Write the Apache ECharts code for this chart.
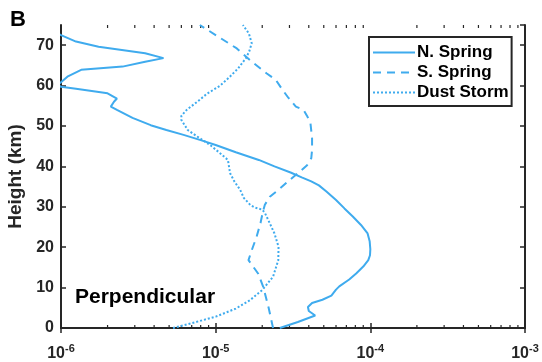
<!DOCTYPE html>
<html>
<head>
<meta charset="utf-8">
<script src="https://cdn.jsdelivr.net/npm/echarts@6/dist/echarts.min.js"></script>
<style>
	html, body { margin: 0; padding: 0; background: #fff; }
	#chart { width: 542px; height: 362px; }
</style>
</head>
<body>
<div id="chart"></div>
<script>
	// heights (km) and values
	var nSpringKm = [0, 1.5, 3.1, 4.2, 5.2, 6.2, 7.0, 8.0, 9.5, 10.3, 12, 13.5, 15.2, 16.8, 18, 19.5, 21.5, 23.4, 25.5, 27.6, 29.6, 31.7, 33.8, 35.3, 36.3, 37.3, 38.5, 40, 41.6, 43.5, 45.3, 46.5, 47.8, 49, 50.2, 52, 54, 54.8, 56, 56.8, 58.1, 59.2, 59.7, 60.2, 60.8, 62.2, 63.9, 64.7, 65.9, 66.8, 68.0, 69.6, 70.9, 72.5, 73.5];
	var nSpringVal = [2.6e-5, 3.4e-5, 4.4e-5, 4.0e-5, 3.95e-5, 4.2e-5, 4.9e-5, 5.6e-5, 6.0e-5, 6.3e-5, 7.3e-5, 8.1e-5, 9.0e-5, 9.7e-5, 9.95e-5, 1.0e-4, 9.9e-5, 9.6e-5, 8.7e-5, 7.7e-5, 6.8e-5, 6.0e-5, 5.2e-5, 4.65e-5, 4.15e-5, 3.6e-5, 3.05e-5, 2.4e-5, 1.9e-5, 1.35e-5, 1.0e-5, 8.0e-6, 6.2e-6, 4.8e-6, 3.8e-6, 2.9e-6, 2.3e-6, 2.1e-6, 2.2e-6, 2.3e-6, 2.0e-6, 1.25e-6, 1.0e-6, 9.5e-7, 1.0e-6, 1.1e-6, 1.35e-6, 2.5e-6, 3.5e-6, 4.6e-6, 3.5e-6, 1.75e-6, 1.25e-6, 1.0e-6, 9e-7];

	var sSpringKm = [0, 5, 10.2, 13.5, 16.8, 19.5, 22.6, 26, 28.8, 30.5, 32.5, 34.5, 36.6, 38.5, 40.3, 42, 44.1, 47, 50.7, 52.5, 54, 54.8, 57, 59, 61.4, 63, 66, 69.2, 72, 75];
	var sSpringVal = [2.35e-5, 2.2e-5, 2.03e-5, 1.88e-5, 1.63e-5, 1.72e-5, 1.84e-5, 1.95e-5, 2.02e-5, 2.08e-5, 2.24e-5, 2.6e-5, 3.0e-5, 3.45e-5, 3.9e-5, 4.15e-5, 4.2e-5, 4.2e-5, 4.1e-5, 3.9e-5, 3.7e-5, 3.3e-5, 2.95e-5, 2.7e-5, 2.45e-5, 2.14e-5, 1.7e-5, 1.37e-5, 1.05e-5, 7.9e-6];

	var dustKm = [0, 1.2, 2.8, 4.8, 6.9, 9.4, 12.7, 16.8, 20.1, 23.4, 26.7, 28.5, 29.3, 29.8, 30.4, 32.2, 34.2, 36.3, 38.3, 41.6, 43.5, 45.3, 47.4, 49, 51.5, 52.5, 54, 56, 58, 60, 62, 64.3, 66.8, 68.5, 70.5, 72.9, 75];
	var dustVal = [5.3e-6, 7.0e-6, 1.0e-5, 1.35e-5, 1.67e-5, 2.0e-5, 2.35e-5, 2.54e-5, 2.55e-5, 2.4e-5, 2.19e-5, 2.08e-5, 2.0e-5, 1.8e-5, 1.68e-5, 1.52e-5, 1.44e-5, 1.32e-5, 1.24e-5, 1.2e-5, 1.05e-5, 9.2e-6, 7.6e-6, 6.6e-6, 6.0e-6, 6.0e-6, 6.5e-6, 7.6e-6, 8.8e-6, 1.07e-5, 1.22e-5, 1.4e-5, 1.57e-5, 1.65e-5, 1.71e-5, 1.64e-5, 1.5e-5];

	var seriesNames = ['N. Spring', 'S. Spring', 'Dust Storm'];

	// minor tick positions of the log axis (2..9 x 10^n)
	var minorTicks = [];
	for (var e = -6; e < -3; e++) {
		for (var k = 2; k <= 9; k++) {
			minorTicks.push([k * Math.pow(10, e), 0]);
		}
	}

	function pairs(xs, ys) {
		var out = [];
		for (var i = 0; i < xs.length; i++) {
			out.push([ys[i], xs[i]]);
		}
		return out;
	}

	var blue = '#3FABEE';
	var axisColor = '#262626';
	var font = 'Liberation Sans, Arial, sans-serif';

	var chart = echarts.init(document.getElementById('chart'));
	chart.setOption({
		animation: false,
		title: {
			text: 'B',
			left: 10,
			top: 9,
			padding: 0,
			textStyle: { fontFamily: font, fontSize: 22, fontWeight: 'bold', color: '#000' }
		},
		grid: { left: 61, right: 17, top: 25, bottom: 34, outerBoundsMode: 'none' },
		legend: {
			data: seriesNames,
			orient: 'vertical',
			left: 369,
			top: 37,
			itemWidth: 42,
			itemHeight: 14,
			itemGap: 3,
			padding: [7, 3, 5, 3],
			borderColor: axisColor,
			borderWidth: 2,
			backgroundColor: '#fff',
			itemStyle: { opacity: 0 },
			textStyle: { fontFamily: font, fontSize: 17, fontWeight: 'bold', color: '#000', padding: [0, 0, 0, -3] }
		},
		graphic: [{
			type: 'text',
			left: 75,
			top: 287,
			style: { text: 'Perpendicular', fontFamily: font, fontSize: 21, fontWeight: 'bold', fill: '#000' }
		}],
		xAxis: [{
			type: 'log',
			logBase: 10,
			min: 1e-6,
			max: 1e-3,
			position: 'bottom',
			splitLine: { show: false },
			axisLine: { lineStyle: { color: axisColor, width: 2 } },
			axisTick: { inside: true, length: 5, lineStyle: { color: axisColor, width: 1.5 } },
			axisLabel: {
				margin: 15,
				formatter: function (v) {
					var p = Math.round(Math.log10(v));
					return '{b|10}{s|' + p + '}';
				},
				rich: {
					b: { fontFamily: font, fontSize: 16, fontWeight: 'bold', color: axisColor },
					s: { fontFamily: font, fontSize: 11, fontWeight: 'bold', color: axisColor, verticalAlign: 'top', padding: [0, 0, 10, 0] }
				}
			}
		}, {
			type: 'log',
			logBase: 10,
			min: 1e-6,
			max: 1e-3,
			position: 'top',
			splitLine: { show: false },
			axisLine: { lineStyle: { color: axisColor, width: 2 } },
			axisTick: { inside: true, length: 5, lineStyle: { color: axisColor, width: 1.5 } },
			axisLabel: { show: false }
		}],
		yAxis: [{
			type: 'value',
			min: 0,
			max: 75,
			interval: 10,
			name: 'Height (km)',
			nameLocation: 'middle',
			nameGap: 29,
			nameTextStyle: { fontFamily: font, fontSize: 19, fontWeight: 'bold', color: axisColor },
			splitLine: { show: false },
			axisLine: { lineStyle: { color: axisColor, width: 2 } },
			axisTick: { inside: true, length: 5, lineStyle: { color: axisColor, width: 1.5 } },
			axisLabel: { margin: 7, showMaxLabel: false, fontFamily: font, fontSize: 16, fontWeight: 'bold', color: axisColor }
		}, {
			type: 'value',
			min: 0,
			max: 75,
			interval: 10,
			position: 'right',
			splitLine: { show: false },
			axisLine: { show: true, lineStyle: { color: axisColor, width: 2 } },
			axisTick: { show: true, inside: true, length: 5, lineStyle: { color: axisColor, width: 1.5 } },
			axisLabel: { show: false }
		}],
		series: [{
			name: 'N. Spring',
			type: 'line',
			showSymbol: false,
			symbol: 'none',
			clip: true,
			lineStyle: { color: blue, width: 2, type: 'solid' },
			itemStyle: { color: blue },
			data: pairs(nSpringKm, nSpringVal)
		}, {
			name: 'S. Spring',
			type: 'line',
			showSymbol: false,
			symbol: 'none',
			clip: true,
			lineStyle: { color: blue, width: 2, type: [8, 6] },
			itemStyle: { color: blue },
			data: pairs(sSpringKm, sSpringVal)
		}, {
			name: 'Dust Storm',
			type: 'line',
			showSymbol: false,
			symbol: 'none',
			clip: true,
			lineStyle: { color: blue, width: 2, type: [2, 2] },
			itemStyle: { color: blue },
			data: pairs(dustKm, dustVal)
		}, {
			name: 'minor',
			type: 'custom',
			silent: true,
			clip: false,
			renderItem: function (params, api) {
				var x = api.coord([api.value(0), 0])[0];
				var cs = params.coordSys;
				var st = { stroke: axisColor, lineWidth: 1.2 };
				return {
					type: 'group',
					children: [
						{ type: 'line', shape: { x1: x, y1: cs.y + cs.height, x2: x, y2: cs.y + cs.height - 3 }, style: st },
						{ type: 'line', shape: { x1: x, y1: cs.y, x2: x, y2: cs.y + 3 }, style: st }
					]
				};
			},
			data: minorTicks
		}]
	});
</script>
</body>
</html>
